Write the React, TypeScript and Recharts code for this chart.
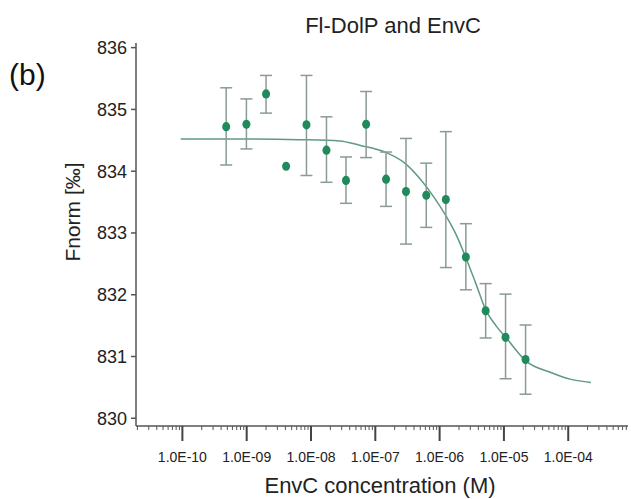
import { ComposedChart, Scatter, Line, XAxis, YAxis, ErrorBar, Label } from 'recharts';

// measured points (EnvC concentration in M, Fnorm in ‰)
const concentrations = [
  4.8e-10, 9.9e-10, 2.0e-9, 4.1e-9, 8.5e-9, 1.74e-8, 3.5e-8, 7.2e-8,
  1.47e-7, 3.0e-7, 6.2e-7, 1.25e-6, 2.56e-6, 5.2e-6, 1.06e-5, 2.17e-5,
];
const fnorm = [
  834.72, 834.76, 835.25, 834.08, 834.75, 834.34, 833.85, 834.76,
  833.87, 833.67, 833.61, 833.54, 832.61, 831.74, 831.31, 830.95,
];
const fnormLow = [
  834.1, 834.36, 834.94, 834.08, 833.93, 833.82, 833.48, 834.22,
  833.43, 832.82, 833.09, 832.44, 832.08, 831.3, 830.64, 830.39,
];
const fnormHigh = [
  835.35, 835.17, 835.55, 834.08, 835.55, 834.88, 834.23, 835.29,
  834.31, 834.53, 834.13, 834.64, 833.15, 832.18, 832.01, 831.51,
];

// fitted curve
const fitConc = [
  9.4e-11, 1.11e-9, 6.7e-9, 2.8e-8, 5.7e-8, 1.41e-7, 2.88e-7, 4.92e-7, 8.4e-7,
  1.25e-6, 1.79e-6, 2.56e-6, 3.66e-6, 5.24e-6, 7.5e-6, 1.07e-5, 2.19e-5,
  5.37e-5, 1.1e-4, 2.25e-4,
];
const fitFnorm = [
  834.52, 834.52, 834.51, 834.49, 834.42, 834.31, 834.13, 833.88, 833.56,
  833.28, 832.98, 832.6, 832.18, 831.75, 831.5, 831.31, 830.93,
  830.74, 830.63, 830.58,
];

const majorTicks = [1e-10, 1e-9, 1e-8, 1e-7, 1e-6, 1e-5, 1e-4];
const tickLabels = ['1.0E-10', '1.0E-09', '1.0E-08', '1.0E-07', '1.0E-06', '1.0E-05', '1.0E-04'];
const yTicks = [830, 831, 832, 833, 834, 835, 836];

const decades = [1e-11, ...majorTicks];
const allTicks: number[] = [];
decades.forEach((d) => {
  for (let m = 1; m <= 9; m++) {
    const v = m * d;
    if (v >= 2e-11 && v <= 8e-4) allTicks.push(v);
  }
});

const points = concentrations.map((c, i) => ({
  c,
  v: fnorm[i],
  err: fnormHigh[i] === fnormLow[i] ? undefined : [fnorm[i] - fnormLow[i], fnormHigh[i] - fnorm[i]],
}));
const fit = fitConc.map((c, i) => ({ c, v: fitFnorm[i] }));

const FONT = '"Liberation Sans", Arial, sans-serif';
const AXIS = '#555';

const XTick = ({ x, y, payload }: any) => {
  const v = payload.value;
  const idx = majorTicks.findIndex((m) => Math.abs(m - v) / m < 1e-6);
  if (idx < 0) {
    return <line x1={x} x2={x} y1={y} y2={y + 4} stroke={AXIS} strokeWidth={1} />;
  }
  return (
    <g>
      <line x1={x} x2={x} y1={y} y2={y + 15} stroke="#444" strokeWidth={2} />
      <text x={x} y={y + 36} textAnchor="middle" fontSize={14} fill="#222" fontFamily={FONT}>
        {tickLabels[idx]}
      </text>
    </g>
  );
};

const Dot = (p: any) => <ellipse cx={p.cx} cy={p.cy} rx={4} ry={4.6} fill="#1f8a5c" />;

export default function App() {
  return (
    <div style={{ position: 'absolute', left: 0, top: 0, width: 631, height: 499, fontFamily: FONT, background: '#fff' }}>
      <ComposedChart width={631} height={499} margin={{ top: 43, right: 3, bottom: 0, left: 0 }}>
        <XAxis
          dataKey="c"
          type="number"
          scale="log"
          domain={[1.9e-11, 8.5e-4]}
          allowDataOverflow
          ticks={allTicks}
          interval={0}
          tick={<XTick />}
          tickSize={0}
          tickMargin={0}
          tickLine={false}
          stroke={AXIS}
          strokeWidth={1.5}
          height={73}
        >
          <Label
            content={() => (
              <text x={380} y={493} textAnchor="middle" fontSize={22} fill="#222" fontFamily={FONT}>
                EnvC concentration (M)
              </text>
            )}
          />
        </XAxis>
        <XAxis
          xAxisId="top"
          orientation="top"
          type="number"
          scale="log"
          domain={[1.9e-11, 8.5e-4]}
          allowDataOverflow
          tick={false}
          tickLine={false}
          stroke={AXIS}
          strokeWidth={1.5}
          height={0}
        />
        <YAxis
          type="number"
          domain={[829.875, 836.075]}
          allowDataOverflow
          ticks={yTicks}
          interval={0}
          tickSize={5}
          tickMargin={4}
          stroke={AXIS}
          strokeWidth={1.5}
          tick={{ fontSize: 18, fill: '#222', fontFamily: FONT }}
          width={136}
        >
          <Label
            content={() => (
              <text
                x={72}
                y={212}
                transform="rotate(-90 72 212)"
                textAnchor="middle"
                dominantBaseline="central"
                fontSize={21}
                fill="#222"
                fontFamily={FONT}
              >
                Fnorm [‰]
              </text>
            )}
          />
        </YAxis>
        <Line
          data={fit}
          dataKey="v"
          type="monotone"
          stroke="#5f9a86"
          strokeWidth={1.5}
          dot={false}
          activeDot={false}
          isAnimationActive={false}
        />
        <Scatter data={points} dataKey="v" shape={<Dot />} isAnimationActive={false}>
          <ErrorBar dataKey="err" direction="y" width={6} stroke="#8a9a94" strokeWidth={1.5} />
        </Scatter>
      </ComposedChart>
      <svg width={631} height={499} style={{ position: 'absolute', left: 0, top: 0, pointerEvents: 'none' }}>
        <text x={393} y={33} textAnchor="middle" fontSize={22} fill="#222" fontFamily={FONT}>
          Fl-DolP and EnvC
        </text>
        <text x={9} y={85} fontSize={30} fill="#111" fontFamily={FONT}>
          (b)
        </text>
      </svg>
    </div>
  );
}
